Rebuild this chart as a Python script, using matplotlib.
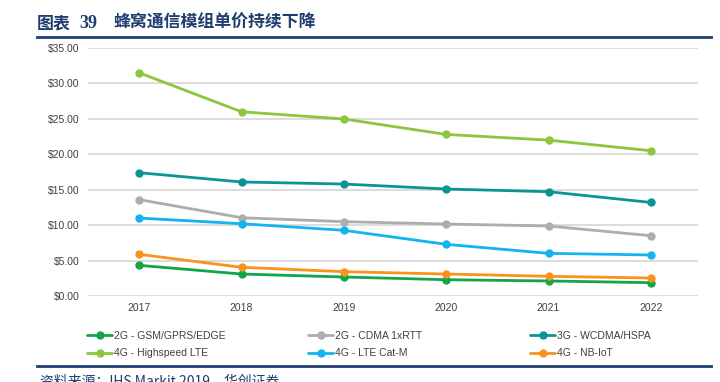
import matplotlib
matplotlib.use("Agg")
import matplotlib.pyplot as plt
from matplotlib.lines import Line2D

plt.rcParams['font.family'] = ['Liberation Sans', 'Noto Sans CJK SC', 'DejaVu Sans']

years = ['2017', '2018', '2019', '2020', '2021', '2022']
gsm = [4.33, 3.10, 2.68, 2.30, 2.12, 1.88]
cdma = [13.6, 11.05, 10.49, 10.16, 9.88, 8.51]
wcdma = [17.4, 16.09, 15.8, 15.1, 14.72, 13.2]
lte = [31.5, 26.0, 24.98, 22.8, 22.0, 20.5]
catm = [11.0, 10.2, 9.27, 7.29, 6.02, 5.79]
nbiot = [5.88, 4.05, 3.43, 3.10, 2.78, 2.54]

series = [
    ('2G - GSM/GPRS/EDGE', gsm, '#12a54a'),
    ('4G - Highspeed LTE', lte, '#8cc63e'),
    ('2G - CDMA 1xRTT', cdma, '#adadad'),
    ('4G - LTE Cat-M', catm, '#12b5ef'),
    ('3G - WCDMA/HSPA', wcdma, '#0a9594'),
    ('4G - NB-IoT', nbiot, '#f7931e'),
]
yticks = [0, 5, 10, 15, 20, 25, 30, 35]

W, H = 720, 382
fig = plt.figure(figsize=(7.2, 3.82), dpi=100)
ax = fig.add_axes([88 / W, 1 - 296 / H, 610 / W, 248 / H])
x = list(range(len(years)))
handles = []
for name, vals, col in series:
    h, = ax.plot(x, vals, color=col, lw=2.0, marker='o', ms=5, label=name,
                 solid_capstyle='round')
    handles.append(h)

ax.set_xlim(-0.5, 5.46)
ax.set_ylim(0, 35)
ax.set_yticks(yticks)
ax.set_yticklabels([f'${v:.2f}' for v in yticks])
ax.set_xticks(x)
ax.set_xticklabels(years)
ax.grid(axis='y', color='#d9d9d9', lw=1.3)
ax.set_axisbelow(True)
for s in ax.spines.values():
    s.set_visible(False)
ax.tick_params(length=0, labelsize=7.5, colors='#404040')
ax.tick_params(axis='x', pad=5)
ax.tick_params(axis='y', pad=6)

col_x = [87, 308, 530]
for i in range(3):
    leg = fig.legend(handles=handles[2 * i:2 * i + 2], loc='center left',
                     bbox_to_anchor=(col_x[i] / W, 1 - 344.5 / H), ncol=1,
                     frameon=False, fontsize=7.5, handlelength=2.4, handletextpad=0.15,
                     labelspacing=0.75, borderaxespad=0, borderpad=0)
    for t in leg.get_texts():
        t.set_color('#404040')

navy = '#1f3d6e'
ty = 1 - 23 / H
fig.text(37 / W, ty, '图表', fontsize=12.2, fontweight='bold', color=navy,
         family=['Noto Sans CJK SC', 'DejaVu Sans'], va='center')
fig.text(79 / W, ty, '39', fontsize=13, fontweight='bold', color=navy,
         family=['Liberation Serif', 'DejaVu Serif'], va='center')
fig.text(113 / W, ty, '蜂窝通信模组单价持续下降', fontsize=12.2, fontweight='bold', color=navy,
         family=['Noto Sans CJK SC', 'DejaVu Sans'], va='center')
fig.add_artist(Line2D([37 / W, 711 / W], [1 - 37 / H, 1 - 37 / H], color=navy, lw=2))
fig.add_artist(Line2D([37 / W, 711 / W], [1 - 365.5 / H, 1 - 365.5 / H], color=navy, lw=2))
fig.text(40 / W, 1 - 381 / H, '资料来源：IHS Markit 2019，华创证券', fontsize=10, style='italic',
         color=navy, family=['Noto Sans CJK SC', 'DejaVu Sans'], va='center')

fig.savefig('out.png', dpi=100)
